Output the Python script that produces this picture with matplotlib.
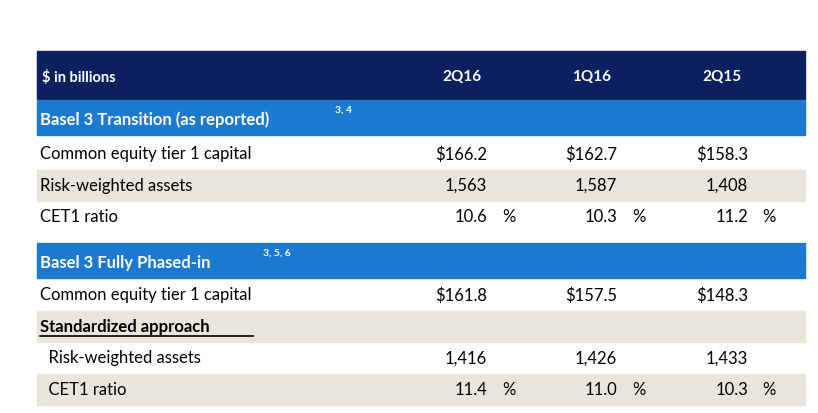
import matplotlib.pyplot as plt
from matplotlib.patches import Rectangle

periods = ['2Q16', '1Q16', '2Q15']
sections = [
    ('Basel 3 Transition (as reported)', '3, 4'),
    ('Basel 3 Fully Phased-in', '3, 5, 6'),
]
trans_labels = ['Common equity tier 1 capital', 'Risk-weighted assets', 'CET1 ratio']
trans_values = [['$166.2', '$162.7', '$158.3'],
                ['1,563', '1,587', '1,408'],
                ['10.6', '10.3', '11.2']]
full_labels = ['Common equity tier 1 capital', 'Standardized approach',
               '  Risk-weighted assets', '  CET1 ratio']
full_values = [['$161.8', '$157.5', '$148.3'],
               ['', '', ''],
               ['1,416', '1,426', '1,433'],
               ['11.4', '11.0', '10.3']]

navy = '#0B2060'
blue = '#1B79CF'
beige = '#EAE5DA'
font = 'Lato'

fig = plt.figure(figsize=(8.18, 4.14), dpi=100)
ax = fig.add_axes([0, 0, 1, 1])
ax.set_xlim(0, 818)
ax.set_ylim(414, 0)
ax.axis('off')

val_x = [487, 617, 748]
pct_x = [502, 632, 762]
head_x = [462, 592, 722]

# header
ax.add_patch(Rectangle((37, 52), 768, 48, color=navy))
ax.text(42, 77, '$ in billions', color='white', fontsize=10.5, fontweight='bold',
        va='center', family=font)
for x, p in zip(head_x, periods):
    ax.text(x, 77, p, color='white', fontsize=11, fontweight='bold',
            ha='center', va='center', family=font)


def section(y0, title, sup):
    ax.add_patch(Rectangle((37, y0), 768, 35, color=blue))
    t = ax.text(40, y0 + 19, title, color='white', fontsize=12, fontweight='bold',
                va='center', family=font)
    return t


def rows(y0, labels, values, shaded, pct_rows):
    for i, (lab, vals) in enumerate(zip(labels, values)):
        yc = y0 + i * 31.5 + 15.5
        if i in shaded:
            ax.add_patch(Rectangle((37, yc - 15.5), 768, 31.5, color=beige))
        bold = lab == 'Standardized approach'
        t = ax.text(40, yc, lab, fontsize=12, va='center', family=font,
                    fontweight='bold' if bold else 'normal', color='black')
        if bold:
            ax.plot([40, 253], [yc + 10, yc + 10], color='black', lw=1.2)
        for x, px, v in zip(val_x, pct_x, vals):
            ax.text(x, yc, v, fontsize=12, ha='right', va='center', family=font)
            if i in pct_rows:
                ax.text(px, yc, '%', fontsize=12, ha='left', va='center', family=font)


section(101, *sections[0])
ax.text(335, 113, sections[0][1], color='white', fontsize=7.5, fontweight='bold', family=font)
rows(139, trans_labels, trans_values, shaded=[1], pct_rows=[2])
section(244, *sections[1])
ax.text(263, 256, sections[1][1], color='white', fontsize=7.5, fontweight='bold', family=font)
rows(280, full_labels, full_values, shaded=[1, 3], pct_rows=[3])

fig.savefig('out.png', dpi=100)
